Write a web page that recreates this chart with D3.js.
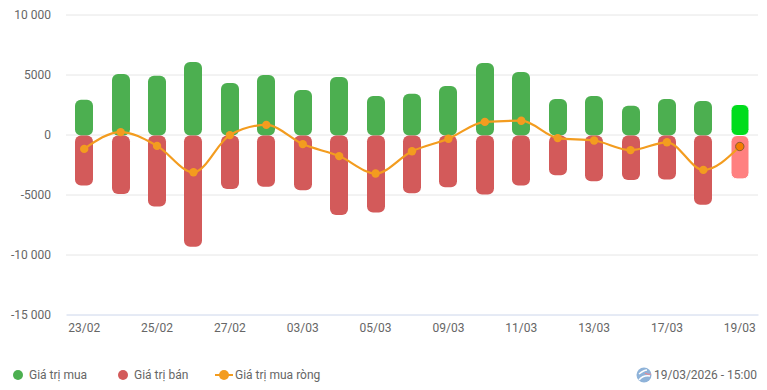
<!DOCTYPE html>
<html>
<head>
<meta charset="utf-8">
<script src="https://cdn.jsdelivr.net/npm/d3@7"></script>
<style>
  html, body { margin: 0; padding: 0; background: #fff; }
  svg { display: block; font-family: Roboto, sans-serif; }
  .grid line { stroke: #e6e6e6; }
  .grid path, .y-axis path, .y-axis line, .x-axis line { display: none; }
  .y-axis text, .x-axis text { fill: #666; font-size: 12px; font-family: Roboto, sans-serif; }
  .x-axis path { stroke: #ccd6eb; }
  .legend text { fill: #666; font-size: 12px; }
</style>
</head>
<body>
<svg id="chart" width="767" height="390"></svg>
<script>
const dates = ['23/02', '24/02', '25/02', '26/02', '27/02', '02/03', '03/03', '04/03', '05/03', '06/03',
  '09/03', '10/03', '11/03', '12/03', '13/03', '16/03', '17/03', '18/03', '19/03'];
const buyValues = [2900, 5050, 4900, 6050, 4300, 4950, 3700, 4800, 3200, 3400,
  4050, 5950, 5200, 2950, 3200, 2400, 2950, 2800, 2500];
const sellValues = [-4250, -4950, -6000, -9350, -4550, -4350, -4650, -6700, -6500, -4900,
  -4400, -5000, -4250, -3400, -3900, -3800, -3750, -5850, -3700];
const netValues = [-1200, 200, -950, -3150, -50, 800, -800, -1800, -3250, -1400,
  -350, 1050, 1150, -300, -500, -1300, -650, -2950, -1000];
const yTicks = [10000, 5000, 0, -5000, -10000, -15000];
const yTickLabels = ['10 000', '5000', '0', '-5000', '-10 000', '-15 000'];
const legendItems = ['Giá trị mua', 'Giá trị bán', 'Giá trị mua ròng'];
const stamp = '19/03/2026 - 15:00';

const width = 767;
const margin = { top: 14.5, right: 9, bottom: 75.5, left: 66 };
const height = 390;

const green = '#4caf50', red = '#d35a5a', orange = '#f39c1f';
const greenHi = '#00dc1c', redHi = '#ff8080';

const svg = d3.select('#chart');

const x = d3.scaleBand()
  .domain(dates)
  .range([margin.left, width - margin.right]);

const y = d3.scaleLinear()
  .domain([-15000, 10000])
  .range([height - margin.bottom, margin.top]);

// gridlines first
svg.append('g')
  .attr('class', 'grid')
  .attr('transform', `translate(${margin.left}, 0)`)
  .call(d3.axisLeft(y).tickValues(yTicks.filter(d => d !== -15000)).tickFormat('').tickSize(-(width - margin.left - margin.right)));

svg.append('g')
  .attr('class', 'y-axis')
  .attr('transform', `translate(${margin.left}, 0)`)
  .call(d3.axisLeft(y).tickValues(yTicks).tickSize(0).tickPadding(15).tickFormat((d, i) => yTickLabels[i]));

svg.append('g')
  .attr('class', 'x-axis')
  .attr('transform', `translate(0, ${height - margin.bottom})`)
  .call(d3.axisBottom(x).tickValues(dates.filter((d, i) => i % 2 === 0)).tickSize(0).tickPadding(9).tickSizeOuter(0));

const barW = 18;
const last = dates.length - 1;

// rounded bars, the last one is the hovered column
svg.append('g').selectAll('rect')
  .data(buyValues)
  .join('rect')
  .attr('x', (d, i) => Math.round(x(dates[i]) + x.bandwidth() / 2 - barW / 2))
  .attr('y', d => y(d))
  .attr('width', barW)
  .attr('height', d => y(0) - y(d) + 1)
  .attr('rx', 6)
  .attr('fill', (d, i) => i === last ? greenHi : green)
  .attr('stroke', '#fff')
  .attr('stroke-width', (d, i) => i === last ? 1 : 0);

svg.append('g').selectAll('rect')
  .data(sellValues)
  .join('rect')
  .attr('x', (d, i) => Math.round(x(dates[i]) + x.bandwidth() / 2 - barW / 2))
  .attr('y', y(0) + 1)
  .attr('width', barW)
  .attr('height', d => y(d) - y(0) - 1)
  .attr('rx', 6)
  .attr('fill', (d, i) => i === last ? redHi : red)
  .attr('stroke', '#fff')
  .attr('stroke-width', (d, i) => i === last ? 1 : 0);

const px = (d, i) => x(dates[i]) + x.bandwidth() / 2;

const line = d3.line()
  .x(px)
  .y(d => y(d))
  .curve(d3.curveMonotoneX);

svg.append('path')
  .datum(netValues)
  .attr('d', line)
  .attr('fill', 'none')
  .attr('stroke', orange)
  .attr('stroke-width', 2.2);

svg.append('g').selectAll('circle')
  .data(netValues)
  .join('circle')
  .attr('cx', px)
  .attr('cy', d => y(d))
  .attr('r', 4.2)
  .attr('fill', (d, i) => i === last ? '#f57c00' : orange)
  .attr('stroke', (d, i) => i === last ? '#8a5a2b' : 'none')
  .attr('stroke-width', 1);

// legend
const legend = svg.append('g').attr('class', 'legend');
legend.append('circle').attr('cx', 18).attr('cy', 375).attr('r', 5).attr('fill', green);
legend.append('circle').attr('cx', 123).attr('cy', 375).attr('r', 5).attr('fill', red);
legend.append('line').attr('x1', 215).attr('x2', 233).attr('y1', 375).attr('y2', 375)
  .attr('stroke', orange).attr('stroke-width', 2);
legend.append('circle').attr('cx', 224).attr('cy', 375).attr('r', 5).attr('fill', orange);
legend.selectAll('text.item')
  .data(legendItems)
  .join('text')
  .attr('class', 'item')
  .attr('x', (d, i) => [29, 134, 235][i])
  .attr('y', 379)
  .text(d => d);

// small globe logo + time stamp
const logo = svg.append('g').attr('transform', 'translate(644, 375)');
logo.append('circle').attr('r', 7.5).attr('fill', '#8fb3d9');
logo.append('path').attr('d', 'M-5 -1 Q0 -5 3 -5 M-5 5 Q-1 0 6 1').attr('fill', 'none').attr('stroke', '#fff').attr('stroke-width', 1.5);
logo.append('path').attr('d', 'M1 -2 Q4 0 7 -1').attr('fill', 'none').attr('stroke', '#e88a94').attr('stroke-width', 1.2);
svg.append('text')
  .attr('x', 757)
  .attr('y', 379)
  .attr('text-anchor', 'end')
  .attr('fill', '#666')
  .attr('font-size', 12)
  .text(stamp);
</script>
</body>
</html>
